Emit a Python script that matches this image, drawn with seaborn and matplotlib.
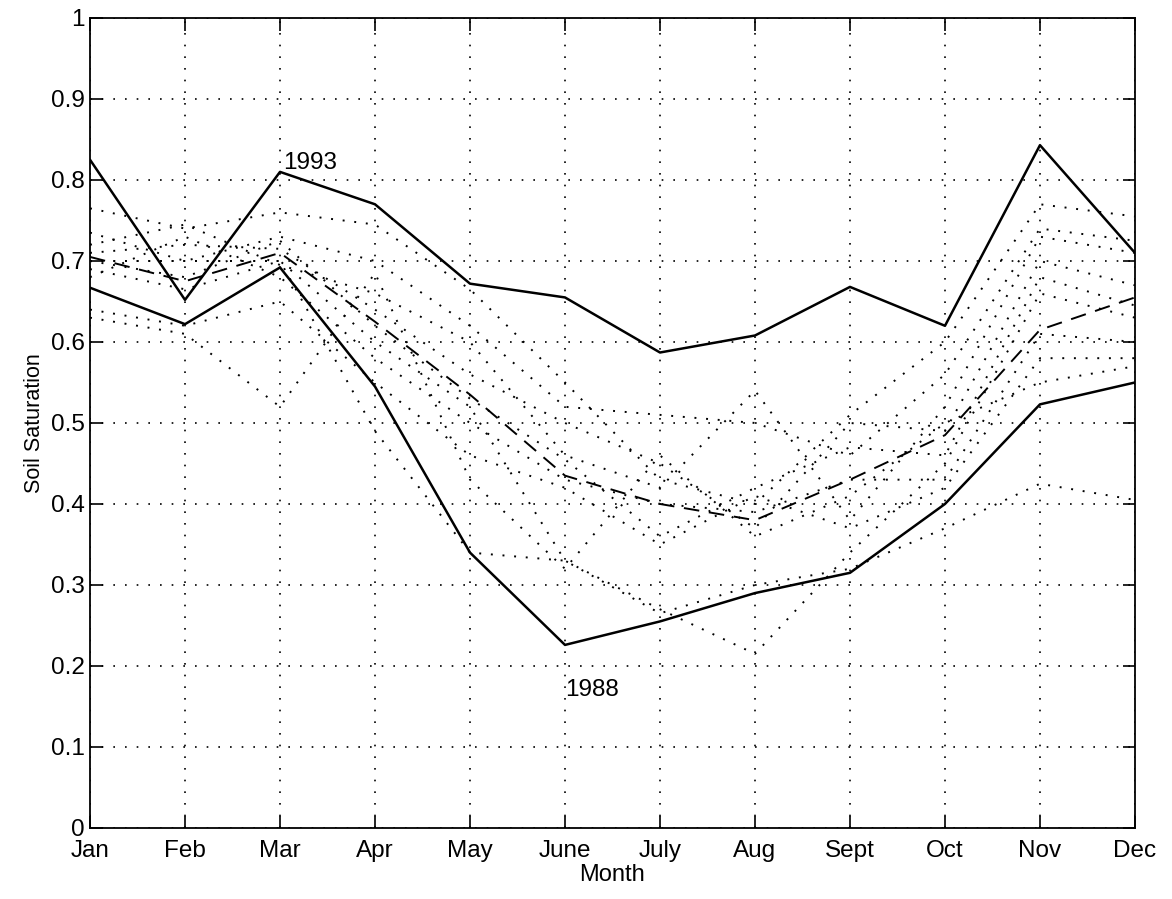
import matplotlib
matplotlib.use("Agg")
import matplotlib.pyplot as plt
import seaborn as sns
import pandas as pd
import numpy as np

months = ["Jan", "Feb", "Mar", "Apr", "May", "June", "July", "Aug", "Sept", "Oct", "Nov", "Dec"]

# Wettest and driest years (solid lines)
sat_1993 = [0.825, 0.652, 0.810, 0.770, 0.672, 0.655, 0.587, 0.608, 0.668, 0.620, 0.843, 0.710]
sat_1988 = [0.667, 0.622, 0.692, 0.545, 0.340, 0.226, 0.255, 0.290, 0.315, 0.400, 0.523, 0.550]

# Long-term monthly mean (dashed line)
sat_mean = [0.705, 0.675, 0.710, 0.625, 0.535, 0.435, 0.400, 0.380, 0.430, 0.485, 0.615, 0.655]

# Remaining individual years (dotted lines)
other_years = [
    [0.765, 0.740, 0.760, 0.745, 0.665, 0.550, 0.430, 0.400, 0.510, 0.600, 0.770, 0.755],
    [0.735, 0.700, 0.730, 0.700, 0.620, 0.520, 0.510, 0.500, 0.460, 0.560, 0.740, 0.725],
    [0.720, 0.745, 0.695, 0.660, 0.600, 0.460, 0.420, 0.540, 0.380, 0.520, 0.730, 0.710],
    [0.710, 0.720, 0.715, 0.640, 0.560, 0.500, 0.450, 0.370, 0.500, 0.490, 0.700, 0.670],
    [0.700, 0.680, 0.725, 0.620, 0.530, 0.455, 0.360, 0.420, 0.470, 0.460, 0.680, 0.645],
    [0.690, 0.665, 0.700, 0.600, 0.520, 0.330, 0.270, 0.215, 0.340, 0.450, 0.660, 0.630],
    [0.680, 0.730, 0.680, 0.580, 0.500, 0.430, 0.400, 0.390, 0.430, 0.430, 0.610, 0.600],
    [0.640, 0.620, 0.650, 0.550, 0.460, 0.420, 0.350, 0.410, 0.370, 0.420, 0.580, 0.580],
    [0.630, 0.610, 0.520, 0.685, 0.430, 0.320, 0.460, 0.360, 0.410, 0.500, 0.550, 0.570],
    [0.700, 0.700, 0.700, 0.490, 0.340, 0.330, 0.265, 0.300, 0.320, 0.370, 0.425, 0.405],
]

yticks = [0, 0.1, 0.2, 0.3, 0.4, 0.5, 0.6, 0.7, 0.8, 0.9, 1]
ytick_labels = ["0", "0.1", "0.2", "0.3", "0.4", "0.5", "0.6", "0.7", "0.8", "0.9", "1"]

sns.set_theme(style="white")
plt.rcParams["font.family"] = ["Liberation Sans", "DejaVu Sans"]
plt.rcParams["text.color"] = "black"
plt.rcParams["axes.labelcolor"] = "black"
plt.rcParams["xtick.color"] = "black"
plt.rcParams["ytick.color"] = "black"

fig = plt.figure(figsize=(11.72, 8.99), dpi=100)
ax = fig.add_axes([0.0768, 0.079, 0.8916, 0.901])

x = np.arange(len(months))
dot_style = (0, (1, 5))

for vals in other_years:
    df = pd.DataFrame({"month": x, "sat": vals})
    sns.lineplot(data=df, x="month", y="sat", ax=ax, color="black",
                 linewidth=1.4, linestyle=dot_style, zorder=2)

for vals in (sat_1993, sat_1988):
    df = pd.DataFrame({"month": x, "sat": vals})
    sns.lineplot(data=df, x="month", y="sat", ax=ax, color="black",
                 linewidth=1.8, linestyle="-", zorder=3)

df_mean = pd.DataFrame({"month": x, "sat": sat_mean})
sns.lineplot(data=df_mean, x="month", y="sat", ax=ax, color="black",
             linewidth=1.4, linestyle=(0, (8, 5)), zorder=3)

ax.text(x[2] + 0.03, sat_1993[2] + 0.004, "1993", fontsize=17.5, ha="left", va="baseline")
ax.text(x[5] + 0.0, sat_1988[5] - 0.063, "1988", fontsize=17.5, ha="left", va="baseline")

ax.set_xlim(0, 11)
ax.set_ylim(0, 1)
ax.set_xticks(x)
ax.set_xticklabels(months)
ax.set_yticks(yticks)
ax.set_yticklabels(ytick_labels)
ax.set_xlabel("Month", fontsize=17, labelpad=1)
ax.set_ylabel("Soil Saturation", fontsize=15.5, labelpad=4)

ax.grid(True, color="black", linestyle=(0, (1, 6)), linewidth=1.2)
for s in ax.spines.values():
    s.set_color("black")
    s.set_linewidth(1.3)
ax.tick_params(axis="both", which="both", direction="in", length=9, width=1.2,
               colors="black", labelsize=17.5, top=True, right=True,
               bottom=True, left=True, pad=4)
ax.tick_params(axis="x", pad=9)

fig.savefig("out.png", dpi=100, facecolor="white")
